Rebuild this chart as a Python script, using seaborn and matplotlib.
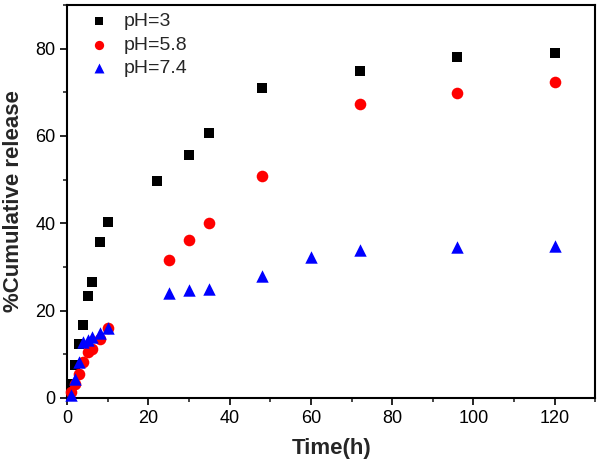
import matplotlib
matplotlib.use("Agg")
import matplotlib.pyplot as plt
import seaborn as sns
import pandas as pd
from matplotlib.ticker import MultipleLocator

# release data
time_ph3 = [1, 2, 3, 4, 5, 6, 8, 10, 22, 30, 35, 48, 72, 96, 120]
rel_ph3 = [3.2, 7.6, 12.4, 16.8, 23.4, 26.6, 35.8, 40.3, 49.6, 55.7, 60.6, 70.9, 74.9, 78.2, 79.1]

time_ph58 = [1, 2, 3, 4, 5, 6, 8, 10, 25, 30, 35, 48, 72, 96, 120]
rel_ph58 = [1.4, 3.2, 5.5, 8.2, 10.4, 11.2, 13.4, 16.1, 31.6, 36.1, 40.1, 50.8, 67.4, 69.8, 72.3]

time_ph74 = [1, 2, 3, 4, 5, 6, 8, 10, 25, 30, 35, 48, 60, 72, 96, 120]
rel_ph74 = [0.6, 4.3, 8.1, 12.8, 13.3, 13.9, 14.8, 16.0, 24.0, 24.6, 25.0, 28.0, 32.2, 33.8, 34.5, 34.8]

labels = ["pH=3", "pH=5.8", "pH=7.4"]
colors = ["#000000", "#ff0000", "#0000ff"]
markers = ["s", "o", "^"]
sizes = [55, 70, 80]

series = [(time_ph3, rel_ph3), (time_ph58, rel_ph58), (time_ph74, rel_ph74)]

sns.set_style("ticks")
plt.rcParams["font.family"] = ["Liberation Sans", "DejaVu Sans"]

fig = plt.figure(figsize=(6, 4.61), dpi=100)
ax = fig.add_axes([0.112, 0.137, 0.88, 0.852])

for (t, r), lab, c, m, s in zip(series, labels, colors, markers, sizes):
    df = pd.DataFrame({"time": t, "release": r})
    sns.scatterplot(data=df, x="time", y="release", color=c, marker=m, s=s,
                    linewidth=0, ax=ax, clip_on=False, zorder=3, label=lab)

ax.set_xlim(0, 130)
ax.set_ylim(0, 90)
ax.xaxis.set_major_locator(MultipleLocator(20))
ax.xaxis.set_minor_locator(MultipleLocator(10))
ax.yaxis.set_major_locator(MultipleLocator(20))
ax.yaxis.set_minor_locator(MultipleLocator(10))
ax.tick_params(which="major", direction="out", length=5, width=1.2, labelsize=13, colors="black")
ax.tick_params(which="minor", direction="out", length=3, width=1.2)
for sp in ax.spines.values():
    sp.set_visible(True)
    sp.set_linewidth(1.5)
    sp.set_color("black")

ax.set_xlabel("Time(h)", fontsize=16, fontweight="bold", labelpad=8)
ax.set_ylabel("%Cumulative release", fontsize=16, fontweight="bold", labelpad=8)

leg = ax.legend(loc="upper left", frameon=False, fontsize=14, markerscale=0.8,
                handlelength=1.2, handletextpad=0.65, labelspacing=0.3,
                borderaxespad=0, bbox_to_anchor=(0.024, 1.0))

fig.savefig("out.png", dpi=100)
